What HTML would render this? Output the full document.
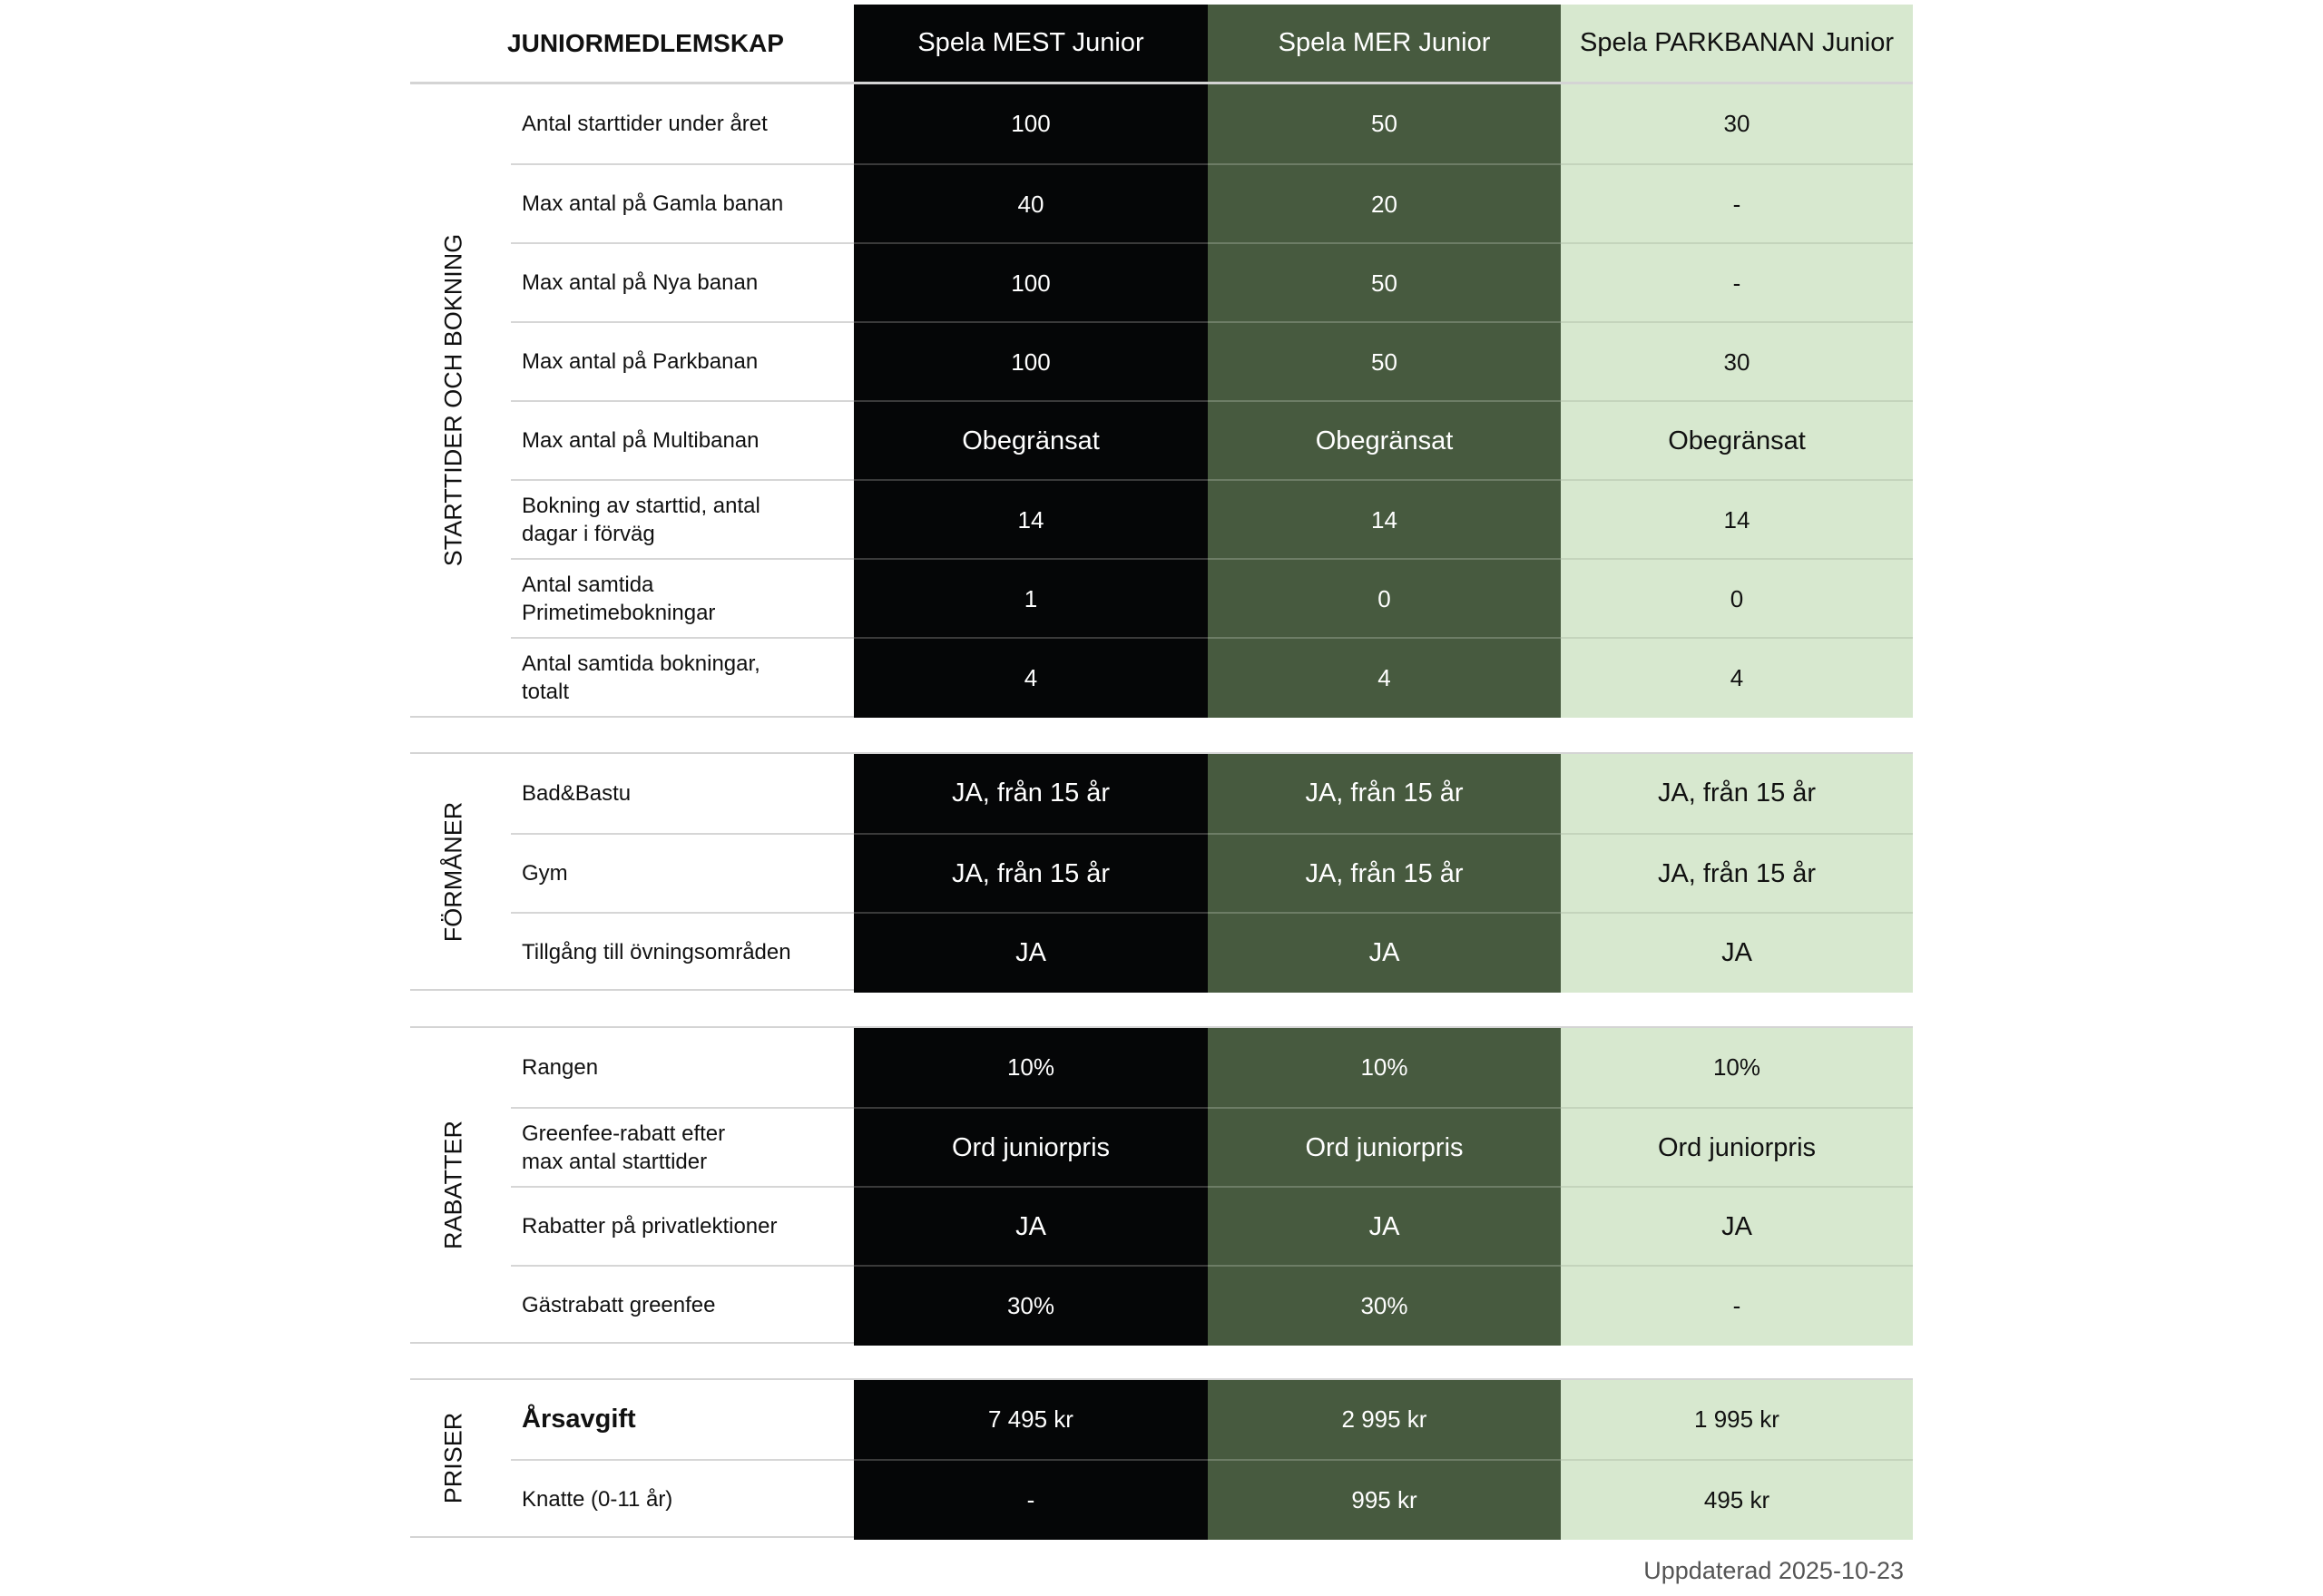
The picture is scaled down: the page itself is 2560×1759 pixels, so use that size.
<!DOCTYPE html>
<html><head><meta charset="utf-8"><style>
*{margin:0;padding:0;box-sizing:border-box}
body{width:2560px;height:1759px;background:#fff;font-family:"Liberation Sans","DejaVu Sans",sans-serif;position:relative;overflow:hidden;color:#111}
.hdr{position:absolute;top:5px;left:452px;width:1656px;height:87px;border-bottom:2px solid #d4d4d4;display:flex}
.hdr .t{width:489px;display:flex;align-items:center;justify-content:center;font-weight:bold;font-size:28px;padding-left:30px}
.c{display:flex;align-items:center;justify-content:center;text-align:center}
.c1{width:390px;background:#050607;color:#fff}
.c2{width:389px;background:#475a3f;color:#fff}
.c3{width:388px;background:#d7e8cf;color:#111}
.hdr .c{font-size:29px}
.sec{position:absolute;left:452px;width:1656px;border-top:2px solid #d4d4d4;border-bottom:2px solid #d4d4d4}
.vl{position:absolute;left:-8px;top:0;width:111px;height:100%}
.vl span{position:absolute;left:50%;top:50%;transform:translate(-50%,-50%) rotate(-90deg);white-space:nowrap;font-size:27px}
.row{margin-left:111px;display:flex;height:87px}
.row+.row{border-top:2px solid #d6d6d6}
.row+.row .c1{border-top:2px solid #3a3a3a;margin-top:-2px}
.row+.row .c2{border-top:2px solid #6d7d66;margin-top:-2px}
.row+.row .c3{border-top:2px solid #c4d4bc;margin-top:-2px}
.row+.row .c{height:89px}
.lab{width:378px;display:flex;align-items:center;padding-left:12px;font-size:24px;line-height:31px}
.row .c{font-size:26px}
.row .c.b{font-size:29px}
.foot{position:absolute;right:462px;top:1716px;font-size:27px;color:#555}
</style></head><body>
<div class="hdr"><div class="t">JUNIORMEDLEMSKAP</div><div class="c c1">Spela MEST Junior</div><div class="c c2">Spela MER Junior</div><div class="c c3">Spela PARKBANAN Junior</div></div>

<div class="sec" style="top:91px;height:700px">
<div class="vl"><span>STARTTIDER OCH BOKNING</span></div>
<div class="row"><div class="lab">Antal starttider under året</div><div class="c c1">100</div><div class="c c2">50</div><div class="c c3">30</div></div>
<div class="row"><div class="lab">Max antal på Gamla banan</div><div class="c c1">40</div><div class="c c2">20</div><div class="c c3">-</div></div>
<div class="row"><div class="lab">Max antal på Nya banan</div><div class="c c1">100</div><div class="c c2">50</div><div class="c c3">-</div></div>
<div class="row"><div class="lab">Max antal på Parkbanan</div><div class="c c1">100</div><div class="c c2">50</div><div class="c c3">30</div></div>
<div class="row"><div class="lab">Max antal på Multibanan</div><div class="c c1 b">Obegränsat</div><div class="c c2 b">Obegränsat</div><div class="c c3 b">Obegränsat</div></div>
<div class="row"><div class="lab">Bokning av starttid, antal<br>dagar i förväg</div><div class="c c1">14</div><div class="c c2">14</div><div class="c c3">14</div></div>
<div class="row"><div class="lab">Antal samtida<br>Primetimebokningar</div><div class="c c1">1</div><div class="c c2">0</div><div class="c c3">0</div></div>
<div class="row"><div class="lab">Antal samtida bokningar,<br>totalt</div><div class="c c1">4</div><div class="c c2">4</div><div class="c c3">4</div></div>
</div>

<div class="sec" style="top:829px;height:263px">
<div class="vl"><span>FÖRMÅNER</span></div>
<div class="row"><div class="lab">Bad&amp;Bastu</div><div class="c c1 b">JA, från 15 år</div><div class="c c2 b">JA, från 15 år</div><div class="c c3 b">JA, från 15 år</div></div>
<div class="row"><div class="lab">Gym</div><div class="c c1 b">JA, från 15 år</div><div class="c c2 b">JA, från 15 år</div><div class="c c3 b">JA, från 15 år</div></div>
<div class="row"><div class="lab">Tillgång till övningsområden</div><div class="c c1 b">JA</div><div class="c c2 b">JA</div><div class="c c3 b">JA</div></div>
</div>

<div class="sec" style="top:1131px;height:350px">
<div class="vl"><span>RABATTER</span></div>
<div class="row"><div class="lab">Rangen</div><div class="c c1">10%</div><div class="c c2">10%</div><div class="c c3">10%</div></div>
<div class="row"><div class="lab">Greenfee-rabatt efter<br>max antal starttider</div><div class="c c1 b">Ord juniorpris</div><div class="c c2 b">Ord juniorpris</div><div class="c c3 b">Ord juniorpris</div></div>
<div class="row"><div class="lab">Rabatter på privatlektioner</div><div class="c c1 b">JA</div><div class="c c2 b">JA</div><div class="c c3 b">JA</div></div>
<div class="row"><div class="lab">Gästrabatt greenfee</div><div class="c c1">30%</div><div class="c c2">30%</div><div class="c c3">-</div></div>
</div>

<div class="sec" style="top:1519px;height:176px">
<div class="vl"><span>PRISER</span></div>
<div class="row"><div class="lab" style="font-weight:bold;font-size:29px">Årsavgift</div><div class="c c1">7 495 kr</div><div class="c c2">2 995 kr</div><div class="c c3">1 995 kr</div></div>
<div class="row"><div class="lab">Knatte (0-11 år)</div><div class="c c1">-</div><div class="c c2">995 kr</div><div class="c c3">495 kr</div></div>
</div>

<div class="foot">Uppdaterad 2025-10-23</div>
</body></html>
